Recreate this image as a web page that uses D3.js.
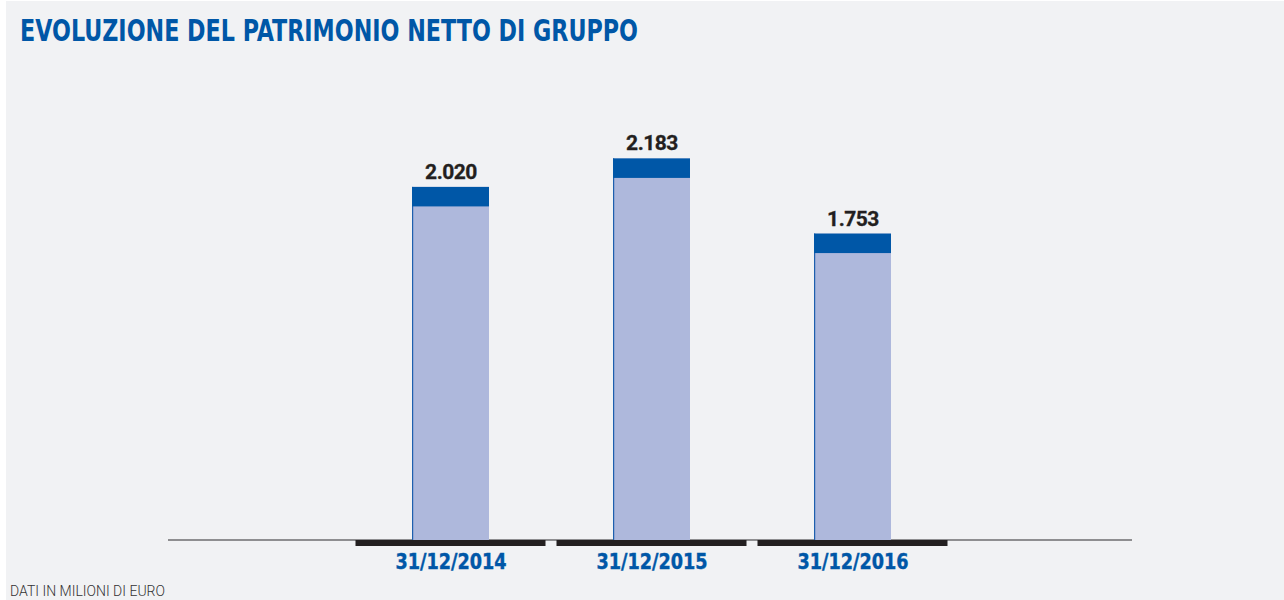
<!DOCTYPE html>
<html>
<head>
<meta charset="utf-8">
<script src="https://cdn.jsdelivr.net/npm/d3@7"></script>
<style>
  body { margin: 0; background: #fff; }
  .title { font-family: 'DejaVu Sans Condensed', 'DejaVu Sans'; font-weight: bold; fill: #0057a7; }
  .value { font-family: 'Roboto', 'Liberation Sans'; font-weight: bold; fill: #231f20; }
  .tick-label { font-family: 'DejaVu Sans Condensed', 'DejaVu Sans'; font-weight: bold; fill: #0057a7; }
  .note { font-family: 'Roboto', 'Liberation Sans'; font-weight: 300; fill: #333; }
</style>
</head>
<body>
<div class="main"></div>
<script>
// dati (milioni di euro)
var categories = ['31/12/2014', '31/12/2015', '31/12/2016'];
var values = [2020, 2183, 1753];
var valueLabels = ['2.020', '2.183', '1.753'];

var width = 1284, height = 600;
var baseY = 540;

var svg = d3.select('.main')
    .append('svg')
    .attr('width', width)
    .attr('height', height);

svg.append('rect')
    .attr('x', 6)
    .attr('y', 1)
    .attr('width', width - 6)
    .attr('height', height - 1)
    .style('fill', '#f1f2f4');

svg.append('text')
    .attr('class', 'title')
    .attr('x', 20)
    .attr('y', 41)
    .attr('font-size', 30)
    .attr('textLength', 618)
    .attr('lengthAdjust', 'spacingAndGlyphs')
    .text('EVOLUZIONE DEL PATRIMONIO NETTO DI GRUPPO');

var x = d3.scaleBand()
    .domain(categories)
    .range([350, 953])
    .paddingInner(0.617)
    .paddingOuter(0.3085);

var y = d3.scaleLinear()
    .domain([0, 3000])
    .range([baseY, baseY - 0.1748 * 3000]);

// linea di base
svg.append('line')
    .attr('x1', 168)
    .attr('x2', 1132)
    .attr('y1', baseY)
    .attr('y2', baseY)
    .style('stroke', '#6d6d6f')
    .style('stroke-width', '1.5px');

var data = categories.map(function (c, i) {
    return { cat: c, value: values[i], label: valueLabels[i] };
});

var bars = svg.selectAll('.barra')
    .data(data)
    .enter()
    .append('g')
    .attr('class', 'barra');

// corpo della barra
bars.append('rect')
    .attr('x', function (d) { return x(d.cat); })
    .attr('y', function (d) { return y(d.value); })
    .attr('width', x.bandwidth())
    .attr('height', function (d) { return baseY - y(d.value); })
    .style('fill', '#aeb8dc');

// bordo sinistro
bars.append('rect')
    .attr('x', function (d) { return x(d.cat); })
    .attr('y', function (d) { return y(d.value); })
    .attr('width', 1.2)
    .attr('height', function (d) { return baseY - y(d.value); })
    .style('fill', '#1e5fae');

// testa blu
bars.append('rect')
    .attr('x', function (d) { return x(d.cat); })
    .attr('y', function (d) { return y(d.value); })
    .attr('width', x.bandwidth())
    .attr('height', 19.5)
    .style('fill', '#0057a7');

bars.append('text')
    .attr('class', 'value')
    .attr('x', function (d) { return x(d.cat) + x.bandwidth() / 2 + 0.5; })
    .attr('y', function (d) { return y(d.value) - 8; })
    .attr('text-anchor', 'middle')
    .attr('font-size', 21)
    .attr('stroke', '#231f20')
    .attr('stroke-width', 0.3)
    .attr('letter-spacing', '-0.5px')
    .text(function (d) { return d.label; });

// barre nere sotto l'asse
bars.append('rect')
    .attr('x', function (d) { return x(d.cat) + x.bandwidth() / 2 - 95; })
    .attr('y', baseY)
    .attr('width', 190)
    .attr('height', 6)
    .style('fill', '#231f20');

bars.append('text')
    .attr('class', 'tick-label')
    .attr('x', function (d) { return x(d.cat) + x.bandwidth() / 2 + 0.5; })
    .attr('y', 569)
    .attr('text-anchor', 'middle')
    .attr('font-size', 21)
    .attr('stroke', '#0057a7')
    .attr('stroke-width', 0.4)
    .attr('textLength', 111)
    .attr('lengthAdjust', 'spacingAndGlyphs')
    .text(function (d) { return d.cat; });

svg.append('text')
    .attr('class', 'note')
    .attr('x', 10)
    .attr('y', 596)
    .attr('font-size', 14)
    .attr('textLength', 155)
    .attr('lengthAdjust', 'spacingAndGlyphs')
    .text('DATI IN MILIONI DI EURO');
</script>
</body>
</html>
